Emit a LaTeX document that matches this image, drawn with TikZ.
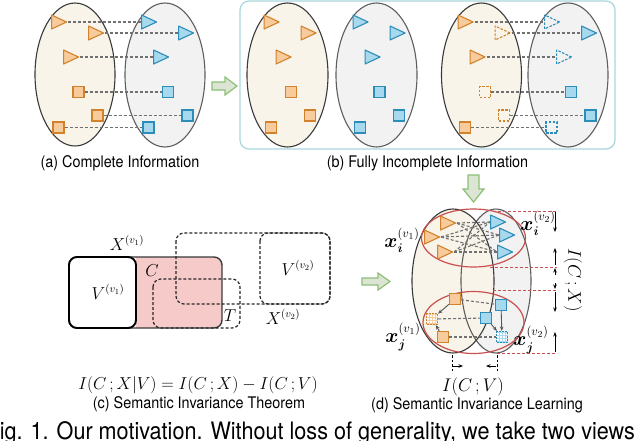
\documentclass[tikz,border=0pt]{standalone}
\usepackage{amsmath}
\usepackage{fontspec}
\setmainfont{TeX Gyre Heros}
\usetikzlibrary{shapes.geometric,arrows.meta}
\definecolor{ocol}{HTML}{D2822B}
\definecolor{ofill}{HTML}{F8CB9C}
\definecolor{bcol}{HTML}{2C8DB8}
\definecolor{bfill}{HTML}{A6D9EE}
\definecolor{begc}{HTML}{F8F4EA}
\definecolor{grc}{HTML}{F2F2F2}
\definecolor{ellc}{HTML}{3A3A3A}
\definecolor{ellc2}{HTML}{5E5E5E}
\definecolor{boxc}{HTML}{A9D6DE}
\definecolor{pinkc}{HTML}{F7CACA}
\definecolor{redc}{HTML}{C8504E}
\definecolor{gdraw}{HTML}{8DC077}
\definecolor{gfill}{HTML}{DCE4D4}
\definecolor{linkc}{HTML}{707070}
\definecolor{arrc}{HTML}{555555}
\newcommand{\sqz}[1]{\scalebox{0.9}[1]{#1}}
\newcommand{\biglab}[1]{\scalebox{1.15}{#1}}
\begin{document}
\begin{tikzpicture}[x=1pt,y=-1pt,
  every node/.style={inner sep=0pt},
  begell/.style={fill=begc, draw=ellc, line width=1.1pt},
  grell/.style={fill=grc, draw=ellc2, line width=1.1pt},
  tri/.style={shape=isosceles triangle, isosceles triangle stretches, minimum width=14pt, minimum height=15pt, inner sep=0pt, line width=1.1pt, line join=round, anchor=apex},
  otri/.style={tri, draw=ocol, fill=ofill},
  btri/.style={tri, draw=bcol, fill=bfill},
  sqr/.style={shape=rectangle, minimum size=11pt, inner sep=0pt, line width=1.1pt},
  osq/.style={sqr, draw=ocol, fill=ofill},
  bsq/.style={sqr, draw=bcol, fill=bfill},
  miss/.style={dash pattern=on 2.5pt off 1.5pt, fill=none},
  hatchw/.style={dash pattern=on 2pt off 1.2pt, path picture={\foreach \dy in {-3pt,0pt,3pt}{\draw[white,line width=1.1pt] ([yshift=\dy]path picture bounding box.west) -- ([yshift=\dy]path picture bounding box.east);}}},
  link/.style={draw=linkc, line width=1.1pt, dash pattern=on 3pt off 2pt},
  arr/.style={draw=arrc, line width=0.9pt, -{Stealth[length=4.5pt,width=3.5pt]}},
  garr/.style={draw=gdraw, fill=gfill, line width=1.2pt},
  dashbox/.style={draw=black!85, line width=1.2pt, dash pattern=on 3pt off 2pt, rounded corners=8pt},
  capt/.style={font=\fontsize{16}{18}\selectfont},
  mth/.style={font=\fontsize{16}{18}\selectfont},
  redl/.style={draw=redc, line width=1pt, dash pattern=on 3pt off 2pt}
]
\useasboundingbox (0,0) rectangle (640,440);
\fill[white] (0,0) rectangle (640,440);

% ---------------- (a) ----------------
\draw[begell] (75,74.5) ellipse [x radius=40pt, y radius=71.5pt];
\draw[grell] (165,75) ellipse [x radius=40pt, y radius=72pt];
\node[otri] (ao1) at (68,22) {};
\node[otri] (ao2) at (105,33) {};
\node[otri] (ao3) at (80,57) {};
\node[btri] (ab1) at (158,22) {};
\node[btri] (ab2) at (195,33) {};
\node[btri] (ab3) at (170,57) {};
\node[osq] (aos1) at (78.5,92) {};
\node[osq] (aos2) at (97.5,115.5) {};
\node[osq] (aos3) at (58.5,127.5) {};
\node[bsq] (abs1) at (168,92) {};
\node[bsq] (abs2) at (187.5,115.5) {};
\node[bsq] (abs3) at (148.5,127.5) {};
\foreach \k in {1,2,3}{
  \draw[link] (ao\k.apex) -- (ab\k.west);
  \draw[link] (aos\k.east) -- (abs\k.west);
}
\node[capt] (capa) at (120,163) {\sqz{(a) Complete Information}};

% arrow a -> b
\draw[garr] (212,82) -- (225,82) -- (225,77) -- (237,86) -- (225,95) -- (225,90) -- (212,90) -- cycle;

% ---------------- (b) ----------------
\draw[boxc, line width=1.2pt, rounded corners=9pt] (240,1) rectangle (615,149);
\draw[begell] (287.5,75) ellipse [x radius=40.5pt, y radius=72pt];
\draw[grell] (376.5,75) ellipse [x radius=40.5pt, y radius=72pt];
\draw[begell] (481.5,75) ellipse [x radius=40pt, y radius=72pt];
\draw[grell] (568,75) ellipse [x radius=40pt, y radius=72pt];
% ellipse 1
\node[otri] (bo1) at (280.5,22) {};
\node[otri] (bo2) at (317.5,33) {};
\node[otri] (bo3) at (292.5,57) {};
\node[osq] (bos1) at (291,92) {};
\node[osq] (bos2) at (310,115.5) {};
\node[osq] (bos3) at (271,127.5) {};
% ellipse 2
\node[btri] (bb1) at (369.5,22) {};
\node[btri] (bb2) at (406.5,33) {};
\node[btri] (bb3) at (381.5,57) {};
\node[bsq] (bbs1) at (379.5,92) {};
\node[bsq] (bbs2) at (399,115.5) {};
\node[bsq] (bbs3) at (360,127.5) {};
% ellipse 3
\node[otri] (co1) at (474.5,22) {};
\node[otri,miss] (co2) at (511.5,33) {};
\node[otri] (co3) at (486.5,57) {};
\node[osq,miss] (cos1) at (485,92) {};
\node[osq,miss] (cos2) at (504,115.5) {};
\node[osq] (cos3) at (465,127.5) {};
% ellipse 4
\node[btri,miss] (cb1) at (561,22) {};
\node[btri] (cb2) at (598,33) {};
\node[btri,miss] (cb3) at (573,57) {};
\node[bsq] (cbs1) at (571,92) {};
\node[bsq] (cbs2) at (590.5,115.5) {};
\node[bsq,miss] (cbs3) at (551.5,127.5) {};
\foreach \k in {1,2,3}{
  \draw[link] (co\k.apex) -- (cb\k.west);
  \draw[link] (cos\k.east) -- (cbs\k.west);
}
\node[capt] (capb) at (427.5,163) {\sqz{(b) Fully Incomplete Information}};

% arrow b -> d
\draw[garr] (468,175) -- (479,175) -- (479,189) -- (484,189) -- (473.5,202) -- (463,189) -- (468,189) -- cycle;

% ---------------- (c) ----------------
\fill[pinkc] (136,257) [rounded corners=8pt] -- (222,257) -- (222,328) [sharp corners] -- (136,328) -- cycle;
\draw[draw=ellc, line width=1.4pt, rounded corners=8pt] (69,257) rectangle (222,328);
\draw[draw=black, fill=white, line width=1.9pt, rounded corners=8pt] (69,257) rectangle (136,328);
\draw[dashbox] (153,279) rectangle (240,328);
\draw[dashbox] (176,233) rectangle (330,304);
\draw[dashbox] (260,233) rectangle (330,304);
\node[mth] (lx1) at (127,243) {$X^{(v_1)}$};
\node[mth] (lv1) at (108,292) {$V^{(v_1)}$};
\node[mth] (lc) at (152,271) {$C$};
\node[mth] (lv2) at (298,268) {$V^{(v_2)}$};
\node[mth] (lt) at (230,316) {$T$};
\node[mth] (lx2) at (283,317) {$X^{(v_2)}$};
\node[font=\fontsize{17}{19}\selectfont] (eq) at (198,385) {$I(C\,;X|V)=I(C\,;X)-I(C\,;V)$};
\node[capt] (capc) at (199,404) {\sqz{(c) Semantic Invariance Theorem}};

% arrow c -> d
\draw[garr] (362,278) -- (378,278) -- (378,273) -- (390,281.5) -- (378,290) -- (378,285) -- (362,285) -- cycle;

% ---------------- (d) ----------------
\fill[grc] (496,281) ellipse [x radius=35pt, y radius=72pt];
\fill[begc] (453,281) ellipse [x radius=41pt, y radius=72pt];
\draw[ellc2, line width=1.1pt] (496,281) ellipse [x radius=35pt, y radius=72pt];
\draw[ellc, line width=1.1pt] (453,281) ellipse [x radius=41pt, y radius=72pt];
\draw[redc, line width=1.2pt] (473.5,238) ellipse [x radius=52pt, y radius=29pt];
\draw[redc, line width=1.2pt] (473.5,322.5) ellipse [x radius=50.5pt, y radius=31pt];

\node[otri] (do1) at (457,223) {};
\node[otri] (do2) at (441,237) {};
\node[otri] (do3) at (454,252) {};
\node[btri] (db1) at (507,222) {};
\node[btri] (db2) at (516,235) {};
\node[btri] (db3) at (514,252) {};
\foreach \a in {1,2,3}{\foreach \b in {1,2,3}{\draw[link] (do\a.apex) -- (db\b.west);}}

\node[osq] (dos1) at (455,299) {};
\node[osq,hatchw] (dos2) at (432,319) {};
\node[osq] (dos3) at (443,337) {};
\node[bsq] (dbs1) at (501,305) {};
\node[bsq] (dbs2) at (486,318) {};
\node[bsq,hatchw] (dbs3) at (502,337) {};
\draw[link] (dos1) -- (dbs1);
\draw[link] (dos2) -- (dbs2);
\draw[link] (dos3) -- (dbs3);
\draw[arr] (dos1) -- (dos2);
\draw[arr] (dos3) -- (dos2);
\draw[arr] (dbs1) -- (dbs3);
\draw[arr] (dbs2) -- (dbs3);

\node[mth] (lxi1) at (402,240) {\biglab{$\boldsymbol{x}_{\boldsymbol{i}}^{(v_1)}$}};
\node[mth] (lxi2) at (538,223) {\biglab{$\boldsymbol{x}_{\boldsymbol{i}}^{(v_2)}$}};
\node[mth] (lxj1) at (403,337) {\biglab{$\boldsymbol{x}_{\boldsymbol{j}}^{(v_1)}$}};
\node[mth] (lxj2) at (531,340) {\biglab{$\boldsymbol{x}_{\boldsymbol{j}}^{(v_2)}$}};

% right-side red guides and markers
\coordinate (r1a) at (498,211); \coordinate (r1b) at (557,211);
\coordinate (r2a) at (490,267); \coordinate (r2b) at (557,267);
\coordinate (r3a) at (493,290); \coordinate (r3b) at (557,290);
\coordinate (r4a) at (497,353); \coordinate (r4b) at (557,353);
\draw[redl] (r1a) -- (r1b);
\draw[redl] (r2a) -- (r2b);
\draw[redl] (r3a) -- (r3b);
\draw[redl] (r4a) -- (r4b);
\coordinate (m1) at (555,212); \coordinate (m2) at (555,232);
\coordinate (m3) at (555,265); \coordinate (m4) at (555,248);
\coordinate (m5) at (555,275); \coordinate (m6) at (555,268);
\coordinate (m7) at (555,283); \coordinate (m8) at (555,289);
\coordinate (m9) at (555,292); \coordinate (m10) at (555,312);
\coordinate (m11) at (555,352); \coordinate (m12) at (555,332);
\draw[arr, draw=black] (m1) -- (m2);
\draw[arr, draw=black] (m3) -- (m4);
\draw[arr, draw=black] (m5) -- (m6);
\draw[arr, draw=black] (m7) -- (m8);
\draw[arr, draw=black] (m9) -- (m10);
\draw[arr, draw=black] (m11) -- (m12);
\node[mth, rotate=-90] (icx) at (573,280) {\scalebox{1.06}{$I(C\,;X)$}};

% bottom markers
\coordinate (b1a) at (452,355); \coordinate (b1b) at (452,373);
\coordinate (b2a) at (497,355); \coordinate (b2b) at (497,373);
\draw[black, line width=0.8pt, dash pattern=on 2.5pt off 2pt] (b1a) -- (b1b);
\draw[black, line width=0.8pt, dash pattern=on 2.5pt off 2pt] (b2a) -- (b2b);
\coordinate (h1a) at (453,366); \coordinate (h1b) at (463,366);
\coordinate (h2a) at (496,366); \coordinate (h2b) at (486,366);
\draw[arr, draw=black] (h1a) -- (h1b);
\draw[arr, draw=black] (h2a) -- (h2b);
\node[mth] (icv) at (473,387) {\scalebox{1.06}{$I(C\,;V)$}};
\node[capt] (capd) at (477,405) {\sqz{(d) Semantic Invariance Learning}};

% figure caption (cut by the frame, as in the reference)
\node[font=\fontsize{24}{26}\selectfont, anchor=base west] (fig) at (-13.5,439) {\sqz{Fig. 1. Our motivation. Without loss of generality, we take two views}};
\end{tikzpicture}
\end{document}
